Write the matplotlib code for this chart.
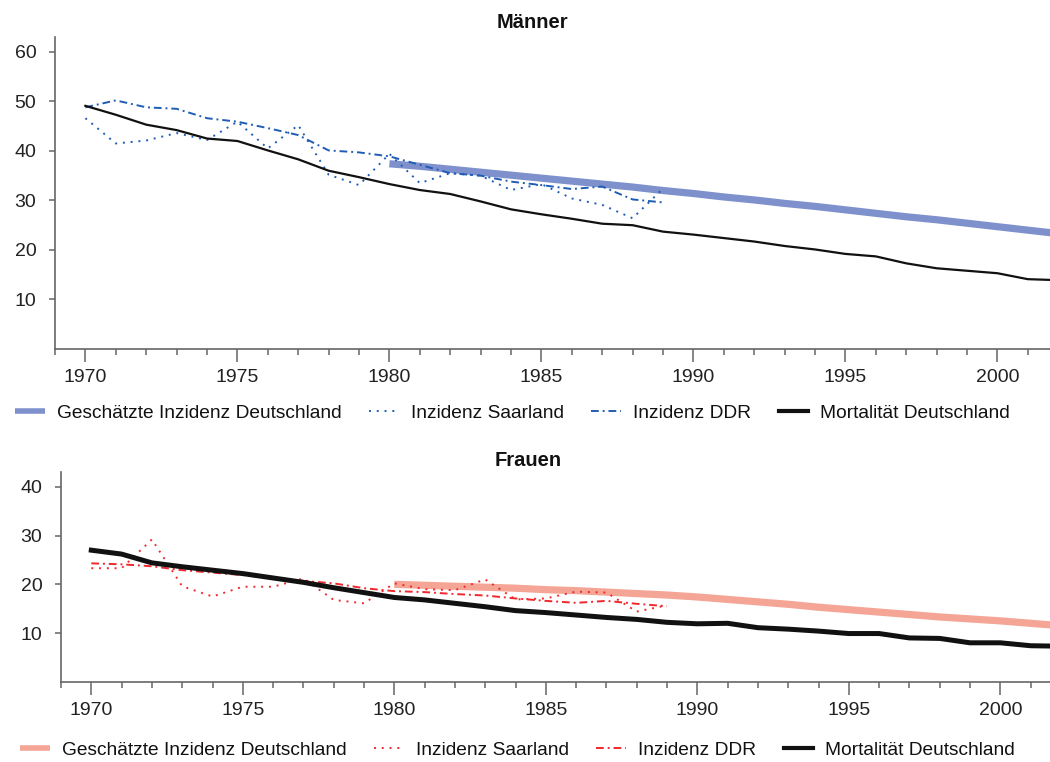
import matplotlib.pyplot as plt
from matplotlib.ticker import MultipleLocator

plt.rcParams['font.family'] = ['Liberation Sans', 'DejaVu Sans']

# years
years = list(range(1970, 2003))
years_est = list(range(1980, 2003))
years_reg = list(range(1970, 1990))

# Maenner
m_est = [37.4, 36.9, 36.3, 35.7, 35.1, 34.5, 33.9, 33.3, 32.7, 32.0, 31.4, 30.7,
         30.1, 29.4, 28.8, 28.1, 27.4, 26.7, 26.1, 25.4, 24.7, 24.0, 23.3]
m_saar = [46.6, 41.5, 42.1, 43.6, 42.2, 45.9, 40.5, 45.2, 35.2, 33.1,
          39.4, 33.5, 35.5, 35.0, 32.1, 33.3, 30.4, 29.1, 26.4, 32.4]
m_ddr = [48.8, 50.2, 48.8, 48.5, 46.6, 45.9, 44.6, 43.2, 40.1, 39.7,
         38.9, 37.2, 35.5, 35.0, 33.8, 33.1, 32.3, 32.8, 30.2, 29.6]
m_mort = [49.1, 47.3, 45.3, 44.2, 42.5, 42.0, 40.1, 38.3, 36.0, 34.7, 33.3,
          32.1, 31.3, 29.8, 28.2, 27.2, 26.3, 25.3, 25.0, 23.7, 23.1, 22.4,
          21.7, 20.8, 20.1, 19.2, 18.7, 17.3, 16.3, 15.8, 15.3, 14.1, 13.9]

# Frauen
f_est = [20.0, 19.8, 19.6, 19.4, 19.2, 18.9, 18.7, 18.4, 18.1, 17.8, 17.4, 16.9,
         16.4, 15.9, 15.3, 14.8, 14.3, 13.8, 13.3, 12.9, 12.5, 12.0, 11.5]
f_saar = [23.3, 23.3, 29.2, 19.6, 17.5, 19.5, 19.5, 21.2, 16.8, 16.1,
          20.2, 19.0, 18.8, 21.0, 16.9, 17.1, 18.5, 18.3, 14.4, 15.7]
f_ddr = [24.3, 24.1, 23.7, 22.9, 22.4, 21.9, 21.2, 20.7, 20.2, 19.2,
         18.6, 18.4, 18.0, 17.7, 17.1, 16.6, 16.2, 16.6, 16.0, 15.5]
f_mort = [27.0, 26.2, 24.4, 23.6, 22.9, 22.2, 21.3, 20.4, 19.3, 18.3, 17.3,
          16.8, 16.1, 15.4, 14.6, 14.2, 13.7, 13.2, 12.8, 12.2, 11.9, 12.0,
          11.1, 10.8, 10.4, 9.9, 9.9, 9.0, 8.9, 8.0, 8.0, 7.4, 7.3]

labels = ['Geschätzte Inzidenz Deutschland', 'Inzidenz Saarland',
          'Inzidenz DDR', 'Mortalität Deutschland']

fig = plt.figure(figsize=(10.5, 7.62), dpi=100)
W, H = 1050, 762

# axes positions in pixels (left, top, right, bottom)
ax1 = fig.add_axes([55 / W, 1 - 349 / H, 995 / W, 312 / H])
ax2 = fig.add_axes([61 / W, 1 - 681.8 / H, 989 / W, 210.1 / H])


def draw(ax, est, saar, ddr, mort, c_est, c_line, mort_lw, ymax, yticks, xmax):
    l1, = ax.plot(years_est, est, color=c_est, lw=5.2, solid_capstyle='butt', zorder=2)
    l2, = ax.plot(years_reg, saar, color=c_line, lw=1.4, ls=(0, (1, 3)), zorder=3)
    l3, = ax.plot(years_reg, ddr, color=c_line, lw=1.4, ls=(0, (4, 2, 1, 2)), zorder=3)
    l4, = ax.plot(years, mort, color='#111111', lw=mort_lw, zorder=4)
    ax.set_xlim(1969, xmax)
    ax.set_ylim(0, ymax)
    ax.set_yticks(yticks)
    ax.xaxis.set_major_locator(MultipleLocator(5))
    ax.xaxis.set_minor_locator(MultipleLocator(1))
    for s in ['top', 'right']:
        ax.spines[s].set_visible(False)
    for s in ['left', 'bottom']:
        ax.spines[s].set_color('#666666')
        ax.spines[s].set_linewidth(1.2)
    ax.tick_params(axis='x', which='major', length=9, width=1.1, color='#666666',
                   labelsize=14, pad=5.5, labelcolor='#222222')
    ax.tick_params(axis='x', which='minor', length=4.5, width=1.1, color='#666666')
    ax.tick_params(axis='y', length=4.5, width=1.1, color='#666666',
                   labelsize=14, pad=9, labelcolor='#222222')
    return [l1, l2, l3, l4]


h1 = draw(ax1, m_est, m_saar, m_ddr, m_mort, '#7E91CC', '#1F5DB5', 1.6,
          63.0, [10, 20, 30, 40, 50, 60], 1969 + 995 / 30.4)
h2 = draw(ax2, f_est, f_saar, f_ddr, f_mort, '#F4A595', '#F0282D', 3.6,
          43.1, [10, 20, 30, 40], 1969 + 989 / 30.3)

fig.text(532 / W, 1 - 22 / H, 'Männer', ha='center', va='center',
         fontsize=14.5, fontweight='bold', color='#111111')
fig.text(528 / W, 1 - 460 / H, 'Frauen', ha='center', va='center',
         fontsize=14.5, fontweight='bold', color='#111111')


def add_legend(handles, x0, y0):
    leg = fig.legend(handles, labels, loc='center left', bbox_to_anchor=(x0 / W, 1 - y0 / H),
                     ncol=4, frameon=False, fontsize=13.8, handlelength=1.55,
                     handletextpad=0.62, columnspacing=1.45, borderpad=0,
                     borderaxespad=0)
    lines = leg.get_lines()
    lines[0].set_linewidth(4.0)
    lines[3].set_linewidth(3.0)
    for t in leg.get_texts():
        t.set_color('#111111')
    return leg


add_legend(h1, 15, 413)
add_legend(h2, 20, 750)

fig.savefig('out.png', dpi=100)
